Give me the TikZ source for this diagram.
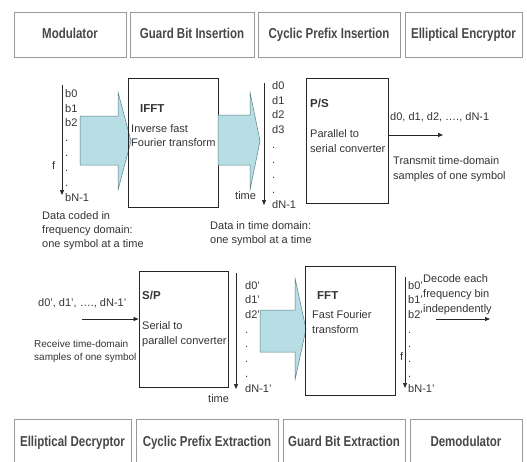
\documentclass[tikz,border=0pt]{standalone}
\usepackage{fontspec}
\usepackage{graphicx}
\setmainfont{Liberation Sans}
\usetikzlibrary{arrows.meta}
\definecolor{txt}{HTML}{333333}
\definecolor{boxline}{HTML}{9A9A9A}
\definecolor{afill}{HTML}{B8DEE5}
\definecolor{aline}{HTML}{5A7F85}
\newcommand{\stg}[1]{\scalebox{1}[1.25]{#1}}
\begin{document}
\begin{tikzpicture}[x=1pt,y=-1pt,
  stage/.style={draw=boxline, line width=0.8pt, rectangle, minimum height=45pt, inner sep=0,
    text height=10.5pt, text depth=2pt,
    font=\fontsize{11.5}{14}\selectfont\bfseries, text=txt!90!white},
  block/.style={draw=black!85, line width=0.9pt, rectangle, inner sep=0},
  lbl/.style={inner sep=0, anchor=base west, text=txt, font=\fontsize{11}{14}\selectfont},
  hd/.style={inner sep=0, anchor=base west, text=txt, font=\fontsize{11.5}{14}\selectfont\bfseries},
  col/.style={inner sep=0, anchor=north west, align=left, text=txt, font=\fontsize{11}{14.9}\selectfont},
  para/.style={inner sep=0, anchor=north west, align=left, text=txt},
  arr/.style={-{Triangle[length=5pt,width=4pt]}, line width=0.7pt, draw=black!85},
  big/.style={fill=afill, draw=aline, line width=0.5pt}]
\clip (0,0) rectangle (527,461);
\useasboundingbox (0,0) rectangle (527,461);

% transmitter stages
\node[stage, minimum width=112pt] (mod) at (70,34.5) {\stg{Modulator}};
\node[stage, minimum width=124pt] (gbi) at (192,34.5) {\stg{Guard Bit Insertion}};
\node[stage, minimum width=142pt] (cpi) at (329,34.5) {\stg{Cyclic Prefix Insertion}};
\node[stage, minimum width=117pt] (enc) at (463.5,34.5) {\stg{Elliptical Encryptor}};

% receiver stages
\node[stage, minimum width=117pt, minimum height=46pt] (dec) at (72.5,442) {\stg{Elliptical Decryptor}};
\node[stage, minimum width=142pt, minimum height=46pt] (cpe) at (207,442) {\stg{Cyclic Prefix Extraction}};
\node[stage, minimum width=122pt, minimum height=46pt] (gbe) at (344,442) {\stg{Guard Bit Extraction}};
\node[stage, minimum width=112pt, minimum height=46pt] (dem) at (466,442) {\stg{Demodulator}};

% ---------- upper row ----------
\coordinate (bt) at (62,85);
\coordinate (bb) at (62,195);
\draw[arr] (bt) -- (bb);
\node[col] (bcol) at (65,89) {b0\\b1\\b2\\.\\.\\.\\.\\bN-1};
\node[lbl] (f1) at (52,169) {f};
\node[para, font=\fontsize{11}{14}\selectfont] (data1) at (42,211)
  {Data coded in\\frequency domain:\\one symbol at a time};

\draw[big] (80,116) -- (118,116) -- (118,92) -- (131,141) -- (118,190) -- (118,165) -- (80,165) -- cycle;
\node[block, minimum width=90pt, minimum height=129pt] (ifft) at (173,142.5) {};
\node[hd] (ifftl) at (140,112) {IFFT};
\node[para, font=\fontsize{11}{14}\selectfont] (ifftd) at (131,124) {Inverse fast\\Fourier transform};

\draw[big] (218,115) -- (250,115) -- (250,92) -- (260,141) -- (250,190) -- (250,165) -- (218,165) -- cycle;
\node[lbl] (time1) at (235,199) {time};

\coordinate (dt) at (264,83);
\coordinate (db) at (264,205);
\draw[arr] (dt) -- (db);
\node[col] (dcol) at (272,81) {d0\\d1\\d2\\d3\\.\\.\\.\\.\\dN-1};
\node[para, font=\fontsize{11}{14}\selectfont] (data2) at (210,221)
  {Data in time domain:\\one symbol at a time};

\node[block, minimum width=82pt, minimum height=125pt] (ps) at (347,140.5) {};
\node[hd] (psl) at (310,107) {P/S};
\node[para, font=\fontsize{11}{15}\selectfont] (psd) at (310,129) {Parallel to\\serial converter};
\coordinate (pso) at (443,135);
\draw[arr] (ps.east |- pso) -- (pso);
\node[lbl] (dseq) at (390,120) {d0, d1, d2, \dots., dN-1};
\node[para, font=\fontsize{11}{15}\selectfont] (tx) at (393,156)
  {Transmit time-domain\\samples of one symbol};

% ---------- lower row ----------
\node[lbl] (dpseq) at (38,306) {d0', d1', \dots., dN-1'};
\coordinate (spi) at (82,319);
\node[block, minimum width=89pt, minimum height=116pt] (sp) at (183.5,329) {};
\draw[arr] (spi) -- (spi -| sp.west);
\node[para, font=\fontsize{10}{13}\selectfont] (rx) at (34,340)
  {Receive time-domain\\samples of one symbol};
\node[hd] (spl) at (142,299) {S/P};
\node[para, font=\fontsize{11}{15}\selectfont] (spd) at (142,321) {Serial to\\parallel converter};

\coordinate (dpt) at (236,273);
\coordinate (dpb) at (236,389);
\draw[arr] (dpt) -- (dpb);
\node[col, font=\fontsize{11}{14.7}\selectfont] (dpcol) at (245,281) {d0'\\d1'\\d2'\\.\\.\\.\\.\\dN-1'};
\node[lbl] (time2) at (208,402) {time};

\draw[big] (260,310) -- (295,310) -- (295,278) -- (306,329) -- (295,380) -- (295,352) -- (260,352) -- cycle;
\node[block, minimum width=90pt, minimum height=129pt] (fft) at (350,330.5) {};
\node[hd] (fftl) at (317,299) {FFT};
\node[para, font=\fontsize{11}{15}\selectfont] (fftd) at (312,310) {Fast Fourier\\transform};

\coordinate (bpt) at (405,277);
\coordinate (bpb) at (405,388);
\draw[arr] (bpt) -- (bpb);
\node[col, font=\fontsize{11}{14.7}\selectfont] (bpcol) at (408,281) {b0'\\b1'\\b2'\\.\\.\\.\\.\\bN-1'};
\node[lbl] (f2) at (400,360) {f};
\node[para, font=\fontsize{11}{15}\selectfont] (decd) at (423,274)
  {Decode each\\frequency bin\\independently};
\coordinate (dcs) at (436,319);
\coordinate (dce) at (490,319);
\draw[arr] (dcs) -- (dce);
\end{tikzpicture}
\end{document}
